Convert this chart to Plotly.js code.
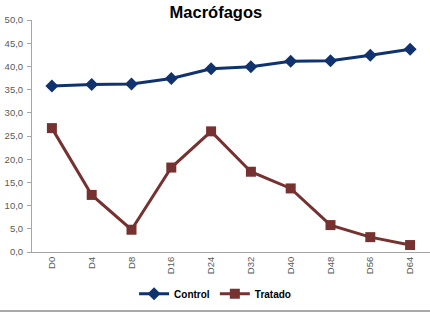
<!DOCTYPE html>
<html>
<head>
<meta charset="utf-8">
<script src="https://cdn.plot.ly/plotly-3.0.1.min.js"></script>
<style>html,body{margin:0;padding:0;background:#fff;}#chart{width:430px;height:314px;}</style>
</head>
<body>
<div id="chart"></div>
<script>
var categories = ["D0","D4","D8","D16","D24","D32","D40","D48","D56","D64"];
var controlValues = [35.8, 36.1, 36.2, 37.4, 39.5, 39.9, 41.1, 41.2, 42.4, 43.7];
var tratadoValues = [26.7, 12.3, 4.8, 18.2, 26.0, 17.3, 13.7, 5.8, 3.2, 1.5];
var yTicks = [0,5,10,15,20,25,30,35,40,45,50];

var traces = [
  {x: categories, y: controlValues, name: "Control", type: "scatter", mode: "lines+markers",
   line: {color: "#10336F", width: 3}, marker: {symbol: "diamond", size: 10, color: "#10336F"}},
  {x: categories, y: tratadoValues, name: "Tratado", type: "scatter", mode: "lines+markers",
   line: {color: "#763230", width: 3}, marker: {symbol: "square", size: 10, color: "#763230"}}
];

var layout = {
  width: 430, height: 314,
  margin: {l: 32, r: 0, t: 20, b: 62},
  paper_bgcolor: "#fff", plot_bgcolor: "#fff",
  separators: ",.",
  font: {family: "Liberation Sans, Arial, sans-serif", size: 9, color: "#595959"},
  title: {text: "<b>Macrófagos</b>", font: {size: 16.5, color: "#000", family: "Liberation Sans, Arial, sans-serif"},
          x: 0.502, xref: "container", xanchor: "center", y: 0.962, yref: "container", yanchor: "middle"},
  xaxis: {type: "category", tickangle: -90, showline: true, linecolor: "#A6A6A6", linewidth: 1,
          ticks: "", showgrid: false, zeroline: false, tickfont: {size: 9.5, color: "#595959"},
          range: [-0.5, 9.5], fixedrange: true},
  yaxis: {range: [0, 50], tickvals: yTicks, tickformat: ".1f", showline: true, linecolor: "#A6A6A6",
          linewidth: 1, ticks: "outside", ticklen: 4, tickcolor: "#A6A6A6", showgrid: false,
          zeroline: false, tickfont: {size: 9.5, color: "#595959"}, ticklabelstandoff: 2},
  showlegend: true,
  legend: {orientation: "h", x: 0.46, xanchor: "center", y: -0.18, yanchor: "middle",
           font: {size: 10, color: "#000", family: "Liberation Sans, Arial, sans-serif", weight: "bold"},
           itemwidth: 30, tracegroupgap: 0},
  shapes: [{type: "line", xref: "paper", yref: "paper", x0: -0.1, x1: 1.1, y0: -0.254, y1: -0.254,
            line: {color: "#8C8C8C", width: 1.5}}]
};

Plotly.newPlot("chart", traces, layout, {displayModeBar: false, staticPlot: true});
</script>
</body>
</html>
